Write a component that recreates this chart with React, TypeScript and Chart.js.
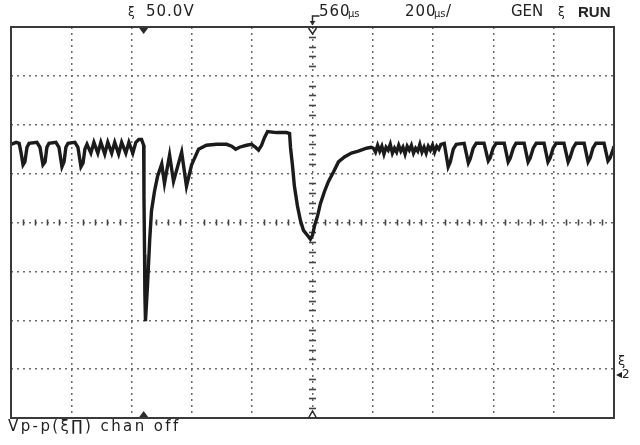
import { useEffect, useRef } from "react";
import { Chart, registerables } from "chart.js";

Chart.register(...registerables);

// Time (µs, relative to screen centre) and voltage (V) of the captured trace
const timeUs = [
  -1000, -983, -973, -967, -960, -954, -947, -940,
  -914, -904, -894, -887, -881, -874,
  -851, -841, -831, -824, -818, -811,
  -788, -778, -768, -761, -755, -748,
  -735, -725, -712, -702, -689, -679, -666, -656, -643, -633, -619, -609, -596, -586,
  -576, -567, -560, -559, -557, -556, -554,
  -547, -540, -534, -524, -514, -500, -491, -474, -461, -434, -418, -401, -378, -352,
  -318, -285, -268, -255, -242, -219, -202, -189, -179, -169, -159, -149, -119, -86, -76,
  -73, -66, -60, -50, -40, -30, -17, -7, 0, 7, 17, 26, 40, 53, 70, 86, 106, 129, 152, 179, 195,
  202, 209, 216, 223, 230, 237, 244, 251, 258, 265, 272, 279, 286, 293, 300, 307, 314,
  321, 328, 335, 342, 349, 356, 363, 370, 377, 384, 391, 398, 405, 412, 419, 426,
  437, 450, 457, 467, 477,
  503, 517, 523, 533, 543,
  569, 583, 589, 599, 609,
  636, 649, 656, 666, 675,
  702, 715, 722, 732, 742,
  768, 781, 788, 798, 808,
  834, 848, 854, 864, 874,
  901, 914, 921, 930, 940,
  967, 980, 987, 997, 1000,
];

const volts = [
  80, 82, 81, 72, 59, 62, 77, 81,
  82, 77, 59, 62, 77, 81,
  82, 77, 57, 62, 77, 81,
  82, 77, 57, 61, 75, 80,
  71, 82, 71, 82, 70, 82, 71, 82, 70, 82, 71, 82, 71, 82,
  85, 85, 79, 27, -33, -73, -101,
  -63, -18, 12, 32, 47, 60, 40, 69, 42, 72, 37, 59, 75, 79,
  80, 80, 78, 75, 77, 79, 80, 77, 74, 79, 87, 93, 92, 92, 91,
  77, 57, 37, 17, 2, -8, -13, -17, -13, -3, 7, 19, 32, 42, 52, 62, 67, 71, 73, 76, 77,
  76, 72, 79, 73, 78, 70, 77, 74, 80, 71, 76, 72, 79, 73, 77, 70, 78,
  74, 79, 71, 76, 73, 80, 72, 77, 71, 78, 74, 79, 72, 78, 75, 80,
  81, 57, 62, 75, 80,
  81, 61, 65, 76, 81,
  81, 63, 66, 76, 81,
  81, 62, 66, 76, 81,
  81, 62, 66, 76, 81,
  81, 62, 66, 76, 81,
  81, 62, 66, 76, 81,
  81, 62, 66, 76, 81,
  81, 63, 66, 75, 78,
];

// Screen: 10 horizontal divisions at 200 µs/div, 8 vertical at 50 V/div
const xMinUs = -1000;
const xMaxUs = 1000;
const xDivUs = 200;
const yMinV = -200;
const yMaxV = 200;
const yDivV = 50;
const xMinorUs = 40;
const yMinorV = 10;
const refMarkerUs = -560;
const triggerUs = 0;

const ink = "#2a2a2a";

const scopePlugin = {
  id: "scopeDecor",
  beforeDatasetsDraw(chart: any) {
    const { ctx, scales } = chart;
    const x = scales.x;
    const y = scales.y;
    const x0 = x.getPixelForValue(triggerUs);
    const y0 = y.getPixelForValue(0);
    ctx.save();
    ctx.strokeStyle = "#444";
    ctx.lineWidth = 1.6;
    for (let t = xMinUs; t <= xMaxUs; t += xMinorUs) {
      if (t % xDivUs === 0) continue;
      const px = Math.round(x.getPixelForValue(t)) + 0.5;
      ctx.beginPath();
      ctx.moveTo(px, y0 - 3);
      ctx.lineTo(px, y0 + 3);
      ctx.stroke();
    }
    for (let v = yMinV; v <= yMaxV; v += yMinorV) {
      if (v % yDivV === 0) continue;
      const py = Math.round(y.getPixelForValue(v)) + 0.5;
      ctx.beginPath();
      ctx.moveTo(x0 - 3.5, py);
      ctx.lineTo(x0 + 3.5, py);
      ctx.stroke();
    }
    ctx.restore();
  },
  afterDraw(chart: any) {
    const { ctx, chartArea, scales } = chart;
    const { left, right, top, bottom } = chartArea;
    const x = scales.x;
    const x0 = x.getPixelForValue(triggerUs);
    const xm = x.getPixelForValue(refMarkerUs);
    ctx.save();
    // frame
    ctx.strokeStyle = "#3a3a3a";
    ctx.lineWidth = 2;
    ctx.strokeRect(left, top, right - left, bottom - top);
    // reference time markers (filled)
    ctx.fillStyle = ink;
    ctx.beginPath();
    ctx.moveTo(xm - 4.5, top + 1);
    ctx.lineTo(xm + 4.5, top + 1);
    ctx.lineTo(xm, top + 7);
    ctx.closePath();
    ctx.fill();
    ctx.beginPath();
    ctx.moveTo(xm - 4.5, bottom - 1);
    ctx.lineTo(xm + 4.5, bottom - 1);
    ctx.lineTo(xm, bottom - 7);
    ctx.closePath();
    ctx.fill();
    // trigger markers (outline)
    ctx.strokeStyle = ink;
    ctx.lineWidth = 1.5;
    ctx.beginPath();
    ctx.moveTo(x0 - 4, top + 1);
    ctx.lineTo(x0, top + 7);
    ctx.lineTo(x0 + 4, top + 1);
    ctx.stroke();
    ctx.beginPath();
    ctx.moveTo(x0 - 4, bottom);
    ctx.lineTo(x0, bottom - 7);
    ctx.lineTo(x0 + 4, bottom);
    ctx.stroke();
    // trigger delay hook above the frame
    ctx.beginPath();
    ctx.moveTo(x0, top - 2);
    ctx.lineTo(x0, top - 11);
    ctx.lineTo(x0 + 7, top - 11);
    ctx.stroke();
    ctx.beginPath();
    ctx.moveTo(x0 - 3, top - 6);
    ctx.lineTo(x0 + 3, top - 6);
    ctx.lineTo(x0, top - 2);
    ctx.closePath();
    ctx.fill();
    ctx.restore();
  },
};

const txt = (extra: React.CSSProperties): React.CSSProperties => ({
  position: "absolute",
  fontFamily: "'DejaVu Sans', sans-serif",
  fontSize: 15,
  color: "#222",
  whiteSpace: "nowrap",
  lineHeight: "17px",
  ...extra,
});

export default function App() {
  const ref = useRef<HTMLCanvasElement | null>(null);
  useEffect(() => {
    if (!ref.current) return;
    const gridCommon = {
      color: "#6a6a6a",
      lineWidth: 1.5,
      drawTicks: false,
    };
    const chart = new Chart(ref.current, {
      type: "line",
      data: {
        datasets: [
          {
            data: timeUs.map((t, i) => ({ x: t, y: volts[i] })),
            borderColor: "#1b1b1b",
            borderWidth: 3.4,
            pointRadius: 0,
            tension: 0,
            fill: false,
          },
        ],
      },
      options: {
        animation: false,
        responsive: false,
        devicePixelRatio: 1,
        layout: { padding: { left: 11, top: 27, right: 26, bottom: 27 } },
        plugins: { legend: { display: false }, tooltip: { enabled: false } },
        scales: {
          x: {
            type: "linear",
            min: xMinUs,
            max: xMaxUs,
            ticks: { display: false, stepSize: xDivUs },
            grid: gridCommon,
            border: { display: false, dash: [2, 4] },
          },
          y: {
            type: "linear",
            min: yMinV,
            max: yMaxV,
            ticks: { display: false, stepSize: yDivV },
            grid: gridCommon,
            border: { display: false, dash: [2, 4] },
          },
        },
      },
      plugins: [scopePlugin],
    } as any);
    return () => chart.destroy();
  }, []);

  return (
    <div
      style={{
        position: "fixed",
        left: 0,
        top: 0,
        width: 640,
        height: 445,
        background: "#fff",
        overflow: "hidden",
      }}
    >
      <canvas ref={ref} width={640} height={445} style={{ display: "block" }} />
      <div style={txt({ left: 128, top: 4, fontSize: 12 })}>ξ</div>
      <div style={txt({ left: 146, top: 3, letterSpacing: 1 })}>50.0V</div>
      <div style={txt({ left: 319, top: 3, letterSpacing: 1 })}>560</div>
      <div style={txt({ left: 348, top: 5, fontSize: 10 })}>µs</div>
      <div style={txt({ left: 405, top: 3, letterSpacing: 1 })}>200</div>
      <div style={txt({ left: 434, top: 5, fontSize: 10 })}>µs</div>
      <div style={txt({ left: 446, top: 3 })}>/</div>
      <div style={txt({ left: 511, top: 3 })}>GEN</div>
      <div style={txt({ left: 558, top: 4, fontSize: 12 })}>ξ</div>
      <div
        style={txt({
          left: 578,
          top: 3,
          fontFamily: "'Liberation Sans', sans-serif",
          fontWeight: "bold",
          fontSize: 15,
        })}
      >
        RUN
      </div>
      <div style={txt({ left: 618, top: 352, fontSize: 13 })}>ξ</div>
      <div style={txt({ left: 616, top: 366, fontSize: 12 })}>◂2</div>
      <div style={txt({ left: 8, top: 418, letterSpacing: 2.4 })}>
        Vp-p(ξ∏) chan off
      </div>
    </div>
  );
}
